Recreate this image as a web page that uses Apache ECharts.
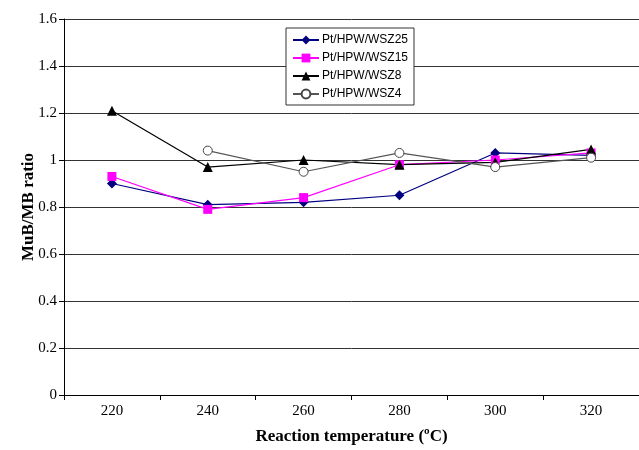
<!DOCTYPE html>
<html>
<head>
<meta charset="utf-8">
<script src="https://cdn.jsdelivr.net/npm/echarts@6/dist/echarts.min.js"></script>
<style>html,body{margin:0;padding:0;background:#fff}#c{width:639px;height:450px}</style>
</head>
<body>
<div id="c"></div>
<script>
var categories = ['220', '240', '260', '280', '300', '320'];
var wsz25 = [0.90, 0.81, 0.82, 0.85, 1.03, 1.02];
var wsz15 = [0.93, 0.79, 0.84, 0.98, 1.00, 1.03];
var wsz8  = [1.21, 0.97, 1.00, 0.98, 0.99, 1.045];
var wsz4  = [null, 1.04, 0.95, 1.03, 0.97, 1.01];
var yTicks = [0, 0.2, 0.4, 0.6, 0.8, 1, 1.2, 1.4, 1.6];

var chart = echarts.init(document.getElementById('c'), null, {renderer: 'canvas'});
var serif = '"Liberation Serif", "DejaVu Serif", serif';
function ser(name, data, color, symbol, size, fill, lineColor) {
  return {
    name: name, type: 'line', data: data, symbol: symbol, symbolSize: size,
    connectNulls: false,
    lineStyle: {color: lineColor || color, width: 1.2},
    itemStyle: {color: fill || color, borderColor: color, borderWidth: fill ? 1 : 0},
    emphasis: {disabled: true}
  };
}
chart.setOption({
  animation: false,
  backgroundColor: '#fff',
  grid: {left: 64, top: 19, width: 582, height: 379, containLabel: false},
  legend: {
    left: 286, top: 28, orient: 'vertical',
    backgroundColor: '#fff', borderColor: '#333', borderWidth: 1,
    padding: [6, 6, 5, 6], itemGap: 6, itemWidth: 26, itemHeight: 11,
    textStyle: {fontFamily: '"Liberation Sans", Arial, sans-serif', fontSize: 12, color: '#000', padding: [0, 0, 0, -2]},
    data: ['Pt/HPW/WSZ25', 'Pt/HPW/WSZ15', 'Pt/HPW/WSZ8', 'Pt/HPW/WSZ4']
  },
  xAxis: {
    type: 'category', data: categories, boundaryGap: true,
    name: 'Reaction temperature (ºC)', nameLocation: 'middle', nameGap: 33, nameMoveOverlap: false,
    nameTextStyle: {fontFamily: serif, fontWeight: 'bold', fontSize: 17, color: '#000'},
    axisLine: {lineStyle: {color: '#000', width: 1}},
    axisTick: {show: true, inside: false, length: 5, lineStyle: {color: '#000'}},
    axisLabel: {fontFamily: serif, fontSize: 15, color: '#000', margin: 9},
    splitLine: {show: false}
  },
  yAxis: {
    type: 'value', min: 0, max: 1.6, interval: 0.2,
    name: 'MuB/MB ratio', nameLocation: 'middle', nameGap: 27, nameMoveOverlap: false,
    nameTextStyle: {fontFamily: serif, fontWeight: 'bold', fontSize: 17, color: '#000'},
    axisLine: {show: true, lineStyle: {color: '#000', width: 1}},
    axisTick: {show: true, length: 5, lineStyle: {color: '#000'}},
    axisLabel: {fontFamily: serif, fontSize: 15, color: '#000', margin: 7,
      formatter: function (v) { return String(Math.round(v * 10) / 10); }},
    splitLine: {show: true, lineStyle: {color: '#333', width: 1}}
  },
  series: [
    ser('Pt/HPW/WSZ25', wsz25, '#000080', 'diamond', 10),
    ser('Pt/HPW/WSZ15', wsz15, '#ff00ff', 'rect', 9),
    ser('Pt/HPW/WSZ8', wsz8, '#000000', 'triangle', 10),
    ser('Pt/HPW/WSZ4', wsz4, '#444444', 'circle', 9, '#ffffff', '#555555')
  ]
});
</script>
</body>
</html>
